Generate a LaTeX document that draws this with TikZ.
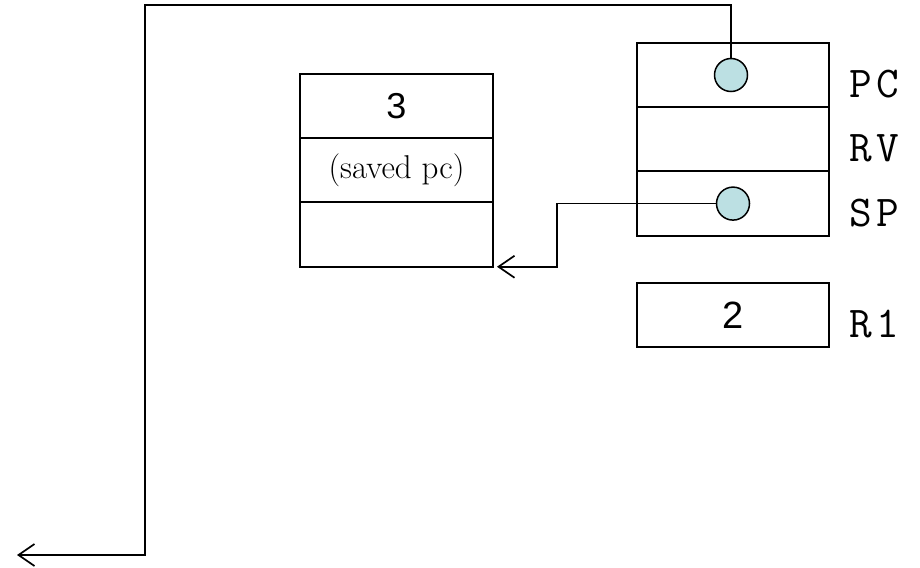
\documentclass[tikz,border=0pt]{standalone}
\usepackage{fontspec}
\newfontfamily\numfont{Liberation Sans}
\usetikzlibrary{arrows.meta, positioning}

\definecolor{dotblue}{RGB}{188,224,227}

\newcommand{\regsp}{\hspace{5pt}}

\tikzset{
  cell/.style={draw, rectangle, line width=2pt, inner sep=0pt, outer sep=0pt,
    minimum width=193pt, minimum height=64.3pt},
  dot/.style={draw, circle, line width=1.5pt, fill=dotblue, minimum size=33pt,
    inner sep=0pt},
  reg/.style={font=\ttfamily\fontsize{44}{50}\selectfont, inner sep=0pt},
  link/.style={line width=1.7pt}
}

\begin{document}
\begin{tikzpicture}[x=1pt, y=1pt, >={Straight Barb[length=16pt,width=22pt]}]

\useasboundingbox (0,0) rectangle (920,-567);

% stack frame
\node[cell] (fr3) at (396.5,-106) {\numfont\fontsize{36}{40}\selectfont\raisebox{-4pt}{3}};
\node[cell, below = 0pt of fr3] (frpc) {\fontsize{33}{38}\selectfont (saved pc)};
\node[cell, below = 0pt of frpc] (frlow) {};

% registers
\node[cell, minimum width=192pt] (pc) at (733,-75) {};
\node[cell, minimum width=192pt, below = 0pt of pc] (rv) {};
\node[cell, minimum width=192pt, below = 0pt of rv] (sp) {};
\node[cell, minimum width=192pt] (r1) at (733,-315)
  {\numfont\fontsize{38}{42}\selectfont\raisebox{-6pt}{2}};

\node[reg, right = 20pt of pc, yshift = -9pt] (pclab) {P\regsp C};
\node[reg, right = 20pt of rv, yshift = -9pt] (rvlab) {R\regsp V};
\node[reg, right = 20pt of sp, yshift = -9pt] (splab) {S\regsp P};
\node[reg, right = 20pt of r1, yshift = -9pt] (r1lab) {R\regsp 1};

\node[dot] (pcdot) at ([xshift=-2pt]pc.center) {};
\node[dot] (spdot) at (sp.center) {};

\coordinate (corner) at (145,-5);
\coordinate (ret) at (17,-555);
\coordinate[right = 64pt of frlow.south east] (spbend);

\draw[link, ->] (pcdot.north) |- (corner) |- (ret);
\draw[link, ->] (spdot.west) -| (spbend) -- ([xshift=4pt]frlow.south east);

\end{tikzpicture}
\end{document}
